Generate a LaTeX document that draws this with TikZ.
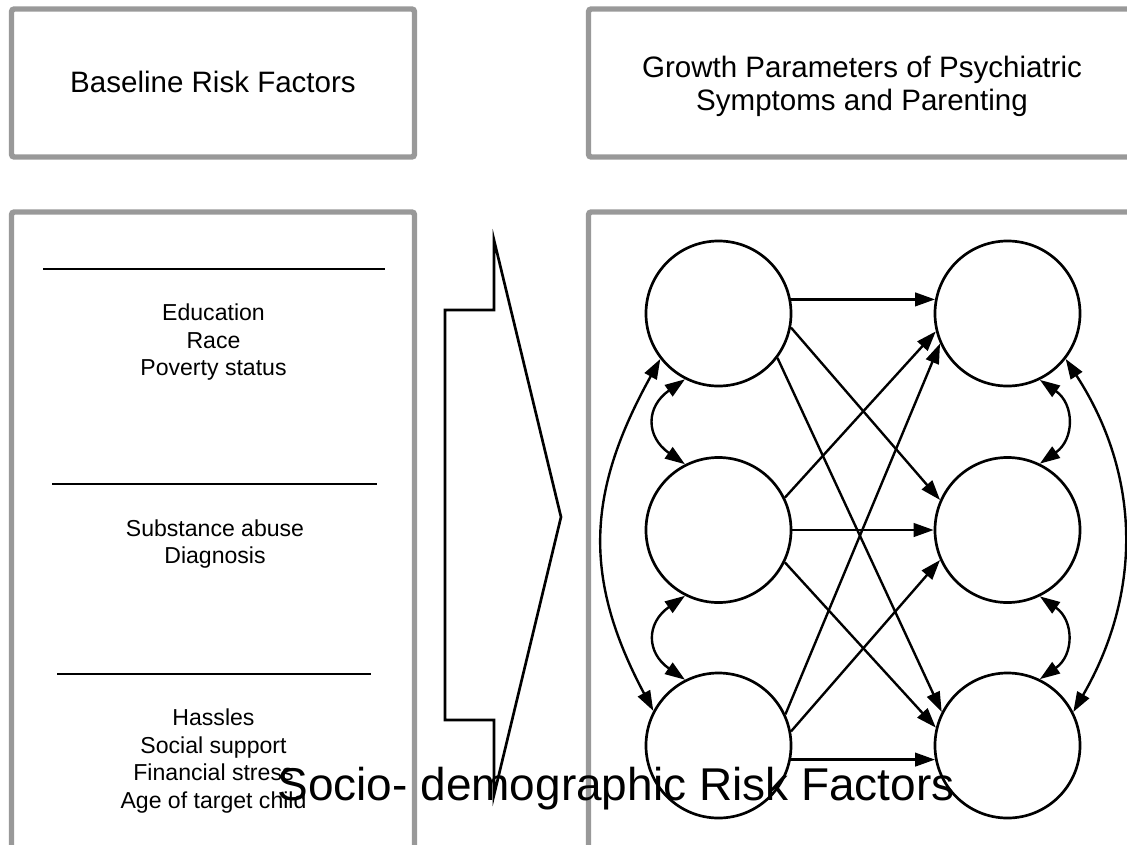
\documentclass[tikz,border=0pt]{standalone}
\usepackage{fontspec}
\setmainfont{Liberation Sans}
\usetikzlibrary{arrows.meta,positioning}
\definecolor{boxgray}{RGB}{153,153,153}

\begin{document}
\begin{tikzpicture}[x=0.025cm,y=0.025cm,>={Triangle[length=0.5cm,width=0.34cm]},
  panel/.style={draw=boxgray,line width=3.9pt,rounded corners=2pt},
  latent/.style={draw,circle,line width=1.9pt,minimum size=3.625cm,inner sep=0pt},
  effect/.style={->,line width=1.7pt},
  cov/.style={<->,line width=1.7pt},
  item/.style={anchor=base,font=\fontsize{16.4}{19.6}\selectfont},
  heading/.style={anchor=base,font=\fontsize{21}{24}\selectfont}]
  \clip (0,0) rectangle (1127,-844);
  % ---- panels ----
  \draw[panel] (11.5,-9) rectangle (414.5,-157);
  \draw[panel] (588.5,-9) rectangle (1137,-157);
  \draw[panel] (11.5,-212) rectangle (414.5,-870);
  \draw[panel] (588.5,-212) rectangle (1137,-870);
  \node[heading] (base) at (213,-92) {Baseline Risk Factors};
  \node[heading] (grow1) at (862,-77) {Growth Parameters of Psychiatric};
  \node[heading] (grow2) at (862,-110) {Symptoms and Parenting};
  % ---- risk factor groups ----
  \draw[line width=1.1pt] (43,-269) -- (385,-269);
  \draw[line width=1.1pt] (52,-484) -- (377,-484);
  \draw[line width=1.1pt] (57,-674) -- (371,-674);
  \foreach \txt [count=\i] in {Education,Race,Poverty status}
    \node[item] (demo\i) at (213.5,{-293.2-27.5*\i}) {\txt};
  \foreach \txt [count=\i] in {Substance abuse,Diagnosis}
    \node[item] (diag\i) at (215,{-508.5-27.5*\i}) {\txt};
  \foreach \txt [count=\i] in {Hassles,Social support,Financial stress,Age of target child}
    \node[item] (strs\i) at (213.5,{-698-27.5*\i}) {\txt};
  % ---- block arrow ----
  \draw[line width=1.9pt,line join=miter] (494,-240) -- (494,-310) -- (445,-310)
    -- (445,-720) -- (494,-720) -- (494,-795) -- (561,-517) -- cycle;
  % ---- growth factors ----
  \node[latent] (L1) at (718.5,-313.5) {};
  \node[latent] (L2) at (718.5,-530) {};
  \node[latent] (L3) at (718.5,-745.5) {};
  \node[latent] (R1) at (1007.5,-313.5) {};
  \node[latent] (R2) at (1007.5,-530) {};
  \node[latent] (R3) at (1007.5,-745.5) {};
  % regressions
  \draw[effect] (L1.11) -- (R1.169);
  \draw[effect] (L1.-11) -- (R2.156);
  \draw[effect] (L1.-37) -- (R3.153);
  \draw[effect] (L2.26) -- (R1.-166);
  \draw[effect] (L2) -- (R2);
  \draw[effect] (L2.-26) -- (R3.166);
  \draw[effect] (L3.25) -- (R1.-156);
  \draw[effect] (L3.11) -- (R2.-156);
  \draw[effect] (L3.-11) -- (R3.-169);
  % covariances
  \draw[cov] (L1.243) to[out=215,in=145,looseness=1.45] (L2.117);
  \draw[cov] (L2.243) to[out=215,in=145,looseness=1.45] (L3.117);
  \draw[cov] (L1.218) to[out=241,in=118,looseness=1.1] (L3.152);
  \draw[cov] (R1.-64) to[out=-35,in=35,looseness=1.3] (R2.64);
  \draw[cov] (R2.-64) to[out=-35,in=35,looseness=1.3] (R3.64);
  \draw[cov] (R1.-38) to[out=-57,in=60,looseness=1.0] (R3.27.5);
  % ---- caption over the panels ----
  \node[anchor=base,font=\fontsize{32.7}{38}\selectfont] (socio) at (616,-800)
    {Socio- demographic Risk Factors};
\end{tikzpicture}
\end{document}
